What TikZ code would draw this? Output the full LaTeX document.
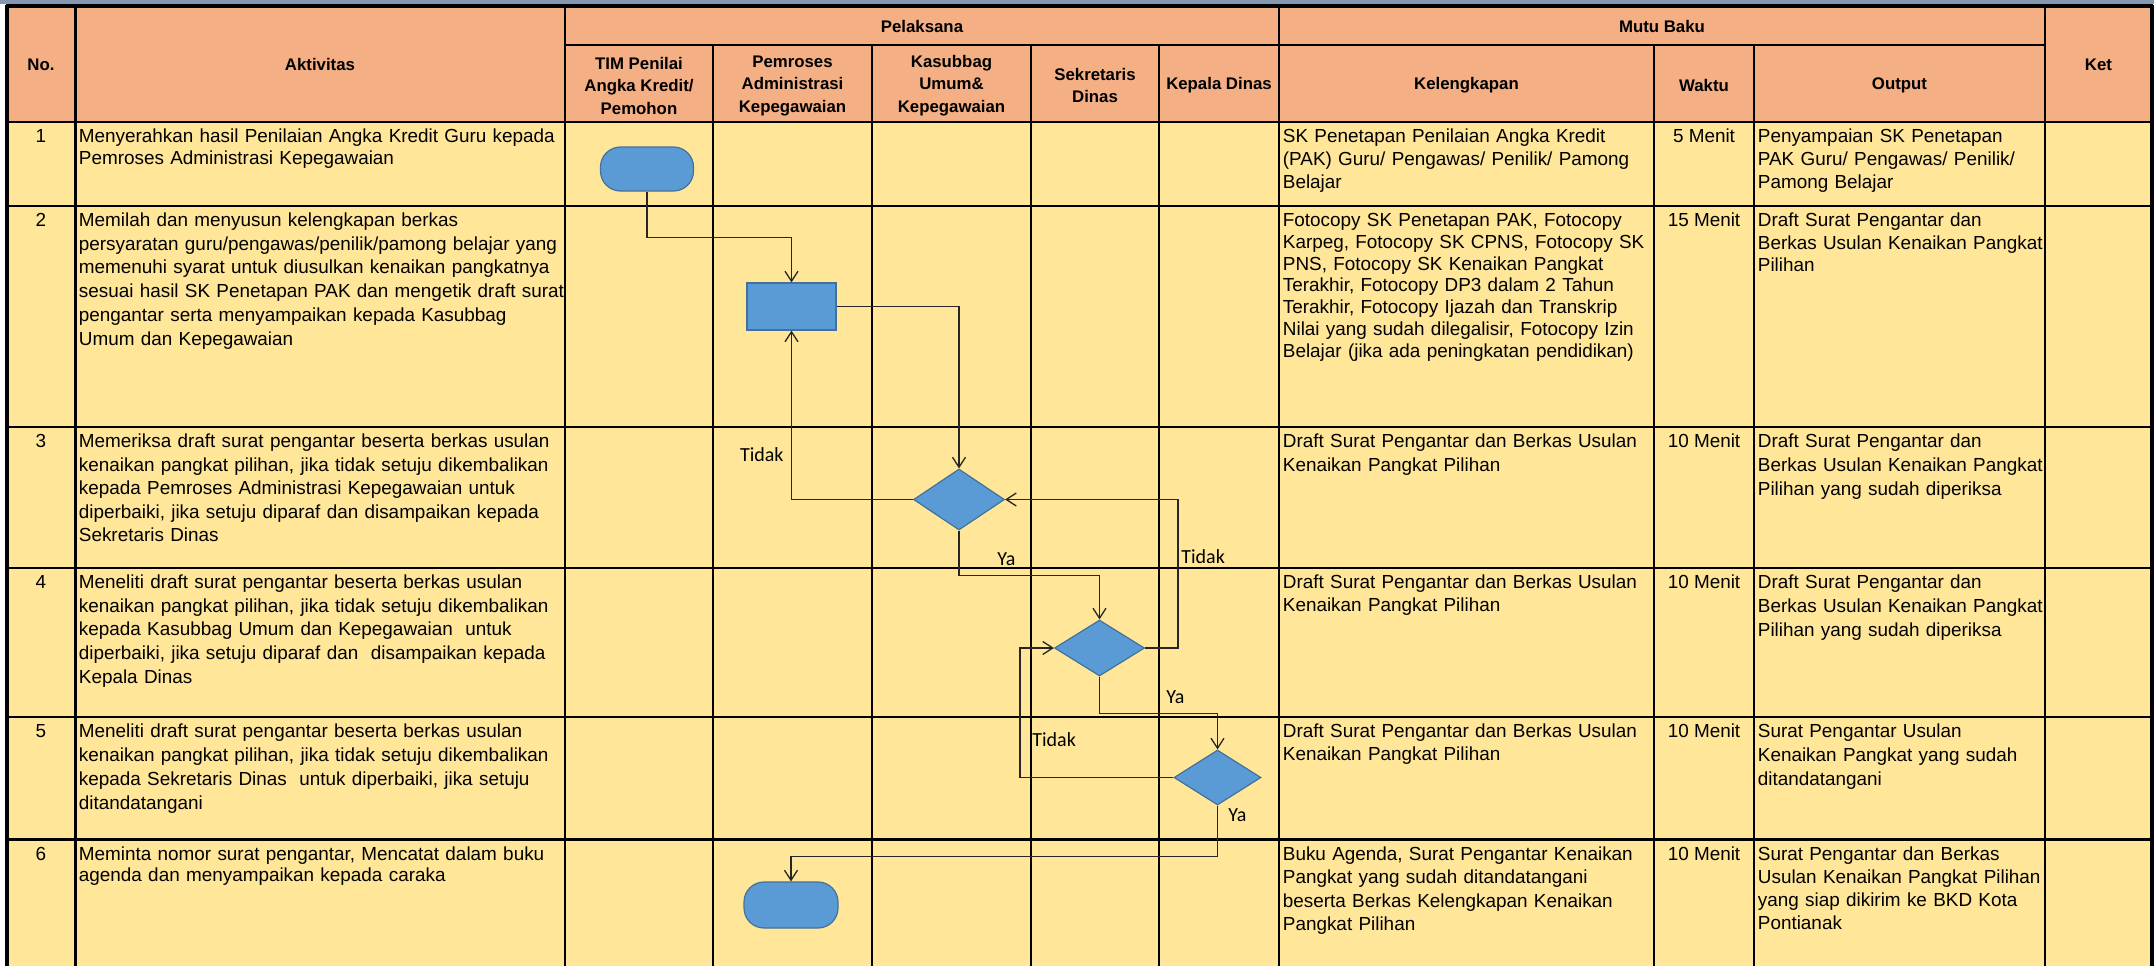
\documentclass[tikz,border=0pt]{standalone}
\usepackage{fontspec}
\setmainfont{Liberation Sans}
\newfontfamily\lblfont{Carlito}
\usetikzlibrary{shapes.geometric,arrows.meta}
\definecolor{hdrfill}{HTML}{F4B084}
\definecolor{bodyfill}{HTML}{FFE699}
\definecolor{topband}{HTML}{8497B0}
\definecolor{shpfill}{HTML}{5B9BD5}
\definecolor{shpedge}{HTML}{41719C}
\tikzset{
  gridline/.style={line width=1.3pt, black},
  outerline/.style={line width=1.6pt, black},
  hdr/.style={inner sep=0pt, align=center, font=\fontsize{8.4}{11.25}\selectfont\bfseries},
  cell/.style={anchor=base west, inner sep=0pt, align=left, text width=260pt, font=\fontsize{9.45}{#1}\selectfont},
  ctr/.style={anchor=base, inner sep=0pt, font=\fontsize{9.45}{11.5}\selectfont},
  term/.style={rectangle, rounded corners=10pt, draw=shpedge, fill=shpfill, line width=0.6pt, inner sep=0pt},
  proc/.style={rectangle, draw=shpedge, fill=shpfill, line width=0.6pt, inner sep=0pt},
  dec/.style={diamond, draw=shpedge, fill=shpfill, line width=0.6pt, inner sep=0pt},
  conn/.style={draw=black!85, line width=0.65pt},
  arr/.style={conn, -{Straight Barb[length=5pt,width=6.5pt]}},
  lbl/.style={inner sep=0pt, font=\lblfont\fontsize{10}{12}\selectfont},
}
\begin{document}
\begin{tikzpicture}[x=0.5pt,y=-0.5pt]
\useasboundingbox (0,0) rectangle (2154,966);
\fill[white] (0,0) rectangle (2154,966);
\fill[topband] (0,0) rectangle (2154,4);
\fill[hdrfill] (7,6) rectangle (2152,122);
\fill[bodyfill] (7,122) rectangle (2152,966);

% grid
\draw[gridline] (565,45) -- (2045,45);
\foreach \y in {122,206,427,568,717,839.5} \draw[gridline] (7,\y) -- (2152,\y);
\foreach \x in {75.5,565,1279,2045} \draw[gridline] (\x,6) -- (\x,966);
\foreach \x in {713,872,1031,1159,1654,1754} \draw[gridline] (\x,45) -- (\x,966);
\draw[outerline] (6,6) -- (2153,6);
\draw[outerline] (7,5) -- (7,966);
\draw[outerline] (2152,5) -- (2152,966);

% headers
\node[hdr] (hNo) at (41,64.5) {No.};
\node[hdr] (hAkt) at (320,64.5) {Aktivitas};
\node[hdr] (hPel) at (922,26) {Pelaksana};
\node[hdr] (hMutu) at (1662,26) {Mutu Baku};
\node[hdr] (hKet) at (2098.5,64.5) {Ket};
\node[hdr] (hTim) at (639,85.5) {TIM Penilai\\Angka Kredit/\\Pemohon};
\node[hdr] (hPem) at (792.5,85.5) {Pemroses\\Administrasi\\Kepegawaian};
\node[hdr] (hKas) at (951.5,85.5) {Kasubbag\\Umum\&\\Kepegawaian};
\node[hdr] (hSek) at (1095,85.5) {Sekretaris\\Dinas};
\node[hdr] (hKep) at (1219,85.5) {Kepala Dinas};
\node[hdr] (hKel) at (1466.5,85.5) {Kelengkapan};
\node[hdr] (hWak) at (1704,85.5) {Waktu};
\node[hdr] (hOut) at (1899.5,85.5) {Output};

% row 1
\node[ctr] (n1) at (41,142.5) {1};
\node[cell=11.0] (a1) at (78.5,142.5) {Menyerahkan hasil Penilaian Angka Kredit Guru kepada\\Pemroses Administrasi Kepegawaian};
\node[cell=11.6] (k1) at (1282.5,142.5) {SK Penetapan Penilaian Angka Kredit\\(PAK) Guru/ Pengawas/ Penilik/ Pamong\\Belajar};
\node[ctr] (w1) at (1704,142.5) {5 Menit};
\node[cell=11.6] (o1) at (1757.5,142.5) {Penyampaian SK Penetapan\\PAK Guru/ Pengawas/ Penilik/\\Pamong Belajar};

% row 2
\node[ctr] (n2) at (41,226.5) {2};
\node[cell=11.85] (a2) at (78.5,226.5) {Memilah dan menyusun kelengkapan berkas\\persyaratan guru/pengawas/penilik/pamong belajar yang\\memenuhi syarat untuk diusulkan kenaikan pangkatnya\\sesuai hasil SK Penetapan PAK dan mengetik draft surat\\pengantar serta menyampaikan kepada Kasubbag\\Umum dan Kepegawaian};
\node[cell=10.9] (k2) at (1282.5,226.5) {Fotocopy SK Penetapan PAK, Fotocopy\\Karpeg, Fotocopy SK CPNS, Fotocopy SK\\PNS, Fotocopy SK Kenaikan Pangkat\\Terakhir, Fotocopy DP3 dalam 2 Tahun\\Terakhir, Fotocopy Ijazah dan Transkrip\\Nilai yang sudah dilegalisir, Fotocopy Izin\\Belajar (jika ada peningkatan pendidikan)};
\node[ctr] (w2) at (1704,226.5) {15 Menit};
\node[cell=11.25] (o2) at (1757.5,226.5) {Draft Surat Pengantar dan\\Berkas Usulan Kenaikan Pangkat\\Pilihan};

% row 3
\node[ctr] (n3) at (41,447.5) {3};
\node[cell=11.75] (a3) at (78.5,447.5) {Memeriksa draft surat pengantar beserta berkas usulan\\kenaikan pangkat pilihan, jika tidak setuju dikembalikan\\kepada Pemroses Administrasi Kepegawaian untuk\\diperbaiki, jika setuju diparaf dan disampaikan kepada\\Sekretaris Dinas};
\node[cell=12.1] (k3) at (1282.5,447.5) {Draft Surat Pengantar dan Berkas Usulan\\Kenaikan Pangkat Pilihan};
\node[ctr] (w3) at (1704,447.5) {10 Menit};
\node[cell=12.1] (o3) at (1757.5,447.5) {Draft Surat Pengantar dan\\Berkas Usulan Kenaikan Pangkat\\Pilihan yang sudah diperiksa};

% row 4
\node[ctr] (n4) at (41,588.5) {4};
\node[cell=11.85] (a4) at (78.5,588.5) {Meneliti draft surat pengantar beserta berkas usulan\\kenaikan pangkat pilihan, jika tidak setuju dikembalikan\\kepada Kasubbag Umum dan Kepegawaian\ \ untuk\\diperbaiki, jika setuju diparaf dan\ \ disampaikan kepada\\Kepala Dinas};
\node[cell=11.65] (k4) at (1282.5,588.5) {Draft Surat Pengantar dan Berkas Usulan\\Kenaikan Pangkat Pilihan};
\node[ctr] (w4) at (1704,588.5) {10 Menit};
\node[cell=12.1] (o4) at (1757.5,588.5) {Draft Surat Pengantar dan\\Berkas Usulan Kenaikan Pangkat\\Pilihan yang sudah diperiksa};

% row 5
\node[ctr] (n5) at (41,737.5) {5};
\node[cell=11.95] (a5) at (78.5,737.5) {Meneliti draft surat pengantar beserta berkas usulan\\kenaikan pangkat pilihan, jika tidak setuju dikembalikan\\kepada Sekretaris Dinas\ \ untuk diperbaiki, jika setuju\\ditandatangani};
\node[cell=11.65] (k5) at (1282.5,737.5) {Draft Surat Pengantar dan Berkas Usulan\\Kenaikan Pangkat Pilihan};
\node[ctr] (w5) at (1704,737.5) {10 Menit};
\node[cell=12.0] (o5) at (1757.5,737.5) {Surat Pengantar Usulan\\Kenaikan Pangkat yang sudah\\ditandatangani};

% row 6
\node[ctr] (n6) at (41,860) {6};
\node[cell=10.85] (a6) at (78.5,860) {Meminta nomor surat pengantar, Mencatat dalam buku\\agenda dan menyampaikan kepada caraka};
\node[cell=11.8] (k6) at (1282.5,860) {Buku Agenda, Surat Pengantar Kenaikan\\Pangkat yang sudah ditandatangani\\beserta Berkas Kelengkapan Kenaikan\\Pangkat Pilihan};
\node[ctr] (w6) at (1704,860) {10 Menit};
\node[cell=11.65] (o6) at (1757.5,860) {Surat Pengantar dan Berkas\\Usulan Kenaikan Pangkat Pilihan\\yang siap dikirim ke BKD Kota\\Pontianak};

% flow shapes
\node[term, minimum width=46.5pt, minimum height=22pt] (start) at (647,169) {};
\node[proc, minimum width=44.5pt, minimum height=23.5pt] (proc) at (791.5,306.5) {};
\node[dec, minimum width=45.5pt, minimum height=30.5pt] (d1) at (959,499.5) {};
\node[dec, minimum width=45pt, minimum height=28pt] (d2) at (1099.5,648) {};
\node[dec, minimum width=43.5pt, minimum height=27.5pt] (d3) at (1217.5,777.5) {};
\node[term, minimum width=47pt, minimum height=23pt] (stop) at (791,905) {};

% connectors
\draw[arr] (start.south) -- ++(0,46) -| (proc.north);
\draw[arr] (proc.east) -| (d1.north);
\draw[arr] (d1.west) -| (proc.south);
\draw[arr] (d1.south) -- ++(0,45) -| (d2.north);
\draw[arr] (d2.east) -- ++(33,0) |- (d1.east);
\draw[arr] (d2.south) -- ++(0,37) -| (d3.north);
\draw[arr] (d3.west) -- ++(-153.5,0) |- (d2.west);
\draw[arr] (d3.south) -- ++(0,51) -| (stop.north);

% labels
\node[lbl, anchor=base east] (t1) at (784,461.5) {Tidak};
\node[lbl, anchor=base west] (y1) at (997,565) {Ya};
\node[lbl, anchor=base west] (t2) at (1181,563) {Tidak};
\node[lbl, anchor=base west] (y2) at (1166,703) {Ya};
\node[lbl, anchor=base west] (t3) at (1032,746.5) {Tidak};
\node[lbl, anchor=base west] (y3) at (1228,821.5) {Ya};
\end{tikzpicture}
\end{document}
